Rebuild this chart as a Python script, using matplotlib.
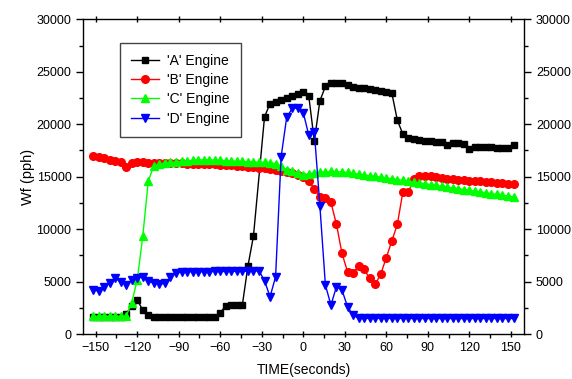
import matplotlib
matplotlib.use("Agg")
import matplotlib.pyplot as plt
from matplotlib.ticker import MultipleLocator

plt.rcParams['font.family'] = ['Liberation Sans', 'DejaVu Sans']
plt.rcParams['font.size'] = 9

# time stamps (seconds) and fuel flow Wf (pph)
t_a = [-152, -148, -144, -140, -136, -132, -128, -124, -120, -116, -112, -108,
       -104, -100, -96, -92, -88, -84, -80, -76, -72, -68, -64, -60, -56, -52,
       -48, -44, -40, -36, -28, -24, -20, -16, -12, -8, -4, 0, 4, 8, 12, 16,
       20, 24, 28, 32, 36, 40, 44, 48, 52, 56, 60, 64, 68, 72, 76, 80, 84, 88,
       92, 96, 100, 104, 108, 112, 116, 120, 124, 128, 132, 136, 140, 144, 148, 152]
wf_a = [1650, 1650, 1650, 1650, 1650, 1650, 1950, 2650, 3240, 2290, 1810, 1590,
        1580, 1580, 1580, 1580, 1580, 1580, 1580, 1600, 1600, 1600, 1600, 2030, 2700, 2760,
        2790, 2790, 6480, 9330, 20700, 21970, 22130, 22290, 22500, 22700, 22920, 23080, 22670, 18380, 22220, 23600,
        23940, 23960, 23940, 23710, 23550, 23470, 23470, 23400, 23300, 23170, 23070, 22980, 20380, 19050, 18700, 18570, 18470, 18420,
        18380, 18320, 18320, 18060, 18250, 18220, 18100, 17620, 17840, 17840, 17840, 17780, 17750, 17750, 17750, 18000]

t_all = [-152, -148, -144, -140, -136, -132, -128, -124, -120, -116, -112, -108,
         -104, -100, -96, -92, -88, -84, -80, -76, -72, -68, -64, -60, -56, -52,
         -48, -44, -40, -36, -32, -28, -24, -20, -16, -12, -8, -4, 0, 4, 8, 12,
         16, 20, 24, 28, 32, 36, 40, 44, 48, 52, 56, 60, 64, 68, 72, 76, 80, 84,
         88, 92, 96, 100, 104, 108, 112, 116, 120, 124, 128, 132, 136, 140, 144, 148, 152]

wf_b = [16950, 16890, 16760, 16630, 16510, 16380, 15940, 16320, 16350, 16350, 16340, 16320,
        16300, 16300, 16280, 16270, 16260, 16250, 16250, 16230, 16210, 16200, 16180, 16150, 16130, 16100,
        16050, 16000, 15950, 15900, 15840, 15780, 15700, 15630, 15550, 15450, 15330, 15200, 15000, 14550, 13870, 13020,
        12950, 12540, 10450, 7680, 5940, 5780, 6500, 6160, 5300, 4730, 5710, 7270, 8860, 10450, 13550, 13550, 14760, 15070,
        15070, 15030, 14980, 14900, 14820, 14760, 14700, 14660, 14620, 14590, 14570, 14530, 14480, 14430, 14380, 14330, 14290]

wf_c = [1700, 1700, 1700, 1700, 1700, 1700, 1700, 3000, 5140, 9330, 14600, 16000,
        16200, 16300, 16350, 16400, 16450, 16500, 16550, 16600, 16600, 16600, 16580, 16550, 16520, 16500,
        16480, 16450, 16420, 16400, 16380, 16350, 16300, 16250, 16000, 15650, 15500, 15350, 15150, 15300, 15350, 15400,
        15450, 15500, 15480, 15450, 15400, 15330, 15250, 15170, 15100, 15020, 14950, 14870, 14800, 14720, 14650, 14570, 14480, 14400,
        14330, 14250, 14170, 14080, 14000, 13930, 13850, 13770, 13700, 13620, 13550, 13450, 13380, 13300, 13230, 13150, 13080]

wf_d = [4190, 4100, 4500, 4830, 5300, 4980, 4670, 5140, 5370, 5400, 5080, 4830,
        4730, 4830, 5400, 5780, 5930, 5950, 5950, 5950, 5950, 5950, 5960, 5960, 5960, 5970,
        5970, 5980, 5980, 6000, 6030, 5080, 3550, 5460, 16890, 20640, 21500, 21560, 21110, 18950, 19250, 12250,
        4670, 2760, 4510, 4190, 2600, 1810, 1490, 1490, 1490, 1490, 1490, 1490, 1490, 1490, 1490, 1490, 1480, 1480,
        1480, 1480, 1480, 1480, 1480, 1480, 1480, 1480, 1480, 1480, 1480, 1480, 1480, 1480, 1480, 1480, 1480]

fig = plt.figure(figsize=(5.72, 3.79), dpi=100)
ax = fig.add_axes([0.1456, 0.1187, 0.7706, 0.8304])

ax.plot(t_a, wf_a, color="black", marker="s", ms=5, lw=1, label="'A' Engine")
ax.plot(t_all, wf_b, color="red", marker="o", ms=5.5, lw=1, label="'B' Engine")
ax.plot(t_all, wf_c, color="#00ff00", marker="^", ms=6, lw=1, label="'C' Engine")
ax.plot(t_all, wf_d, color="blue", marker="v", ms=6, lw=1, label="'D' Engine")

ax.set_xlim(-159, 159.6)
ax.set_ylim(0, 30000)
ax.xaxis.set_major_locator(MultipleLocator(30))
ax.xaxis.set_minor_locator(MultipleLocator(15))
ax.yaxis.set_major_locator(MultipleLocator(5000))
ax.yaxis.set_minor_locator(MultipleLocator(2500))

ax.tick_params(which="both", direction="out", left=True, bottom=True, right=True,
               labelright=True, top=False)
ax.tick_params(which="major", length=5, width=1)
ax.tick_params(which="minor", length=3, width=1)
ax.tick_params(axis="x", which="major", top=True, direction="inout", length=4)
for s in ax.spines.values():
    s.set_linewidth(1)

ax.set_xlabel("TIME(seconds)", fontsize=10, labelpad=7)
ax.set_ylabel("Wf (pph)", fontsize=10.5, labelpad=1)

leg = ax.legend(loc="upper left", bbox_to_anchor=(0.083, 0.926), borderaxespad=0,
                fancybox=False, framealpha=1, edgecolor="#444444", fontsize=10,
                numpoints=1, handlelength=2.0, labelspacing=0.38, borderpad=0.8,
                handletextpad=0.6)
leg.get_frame().set_linewidth(1)

plt.savefig("out.png", dpi=100)
